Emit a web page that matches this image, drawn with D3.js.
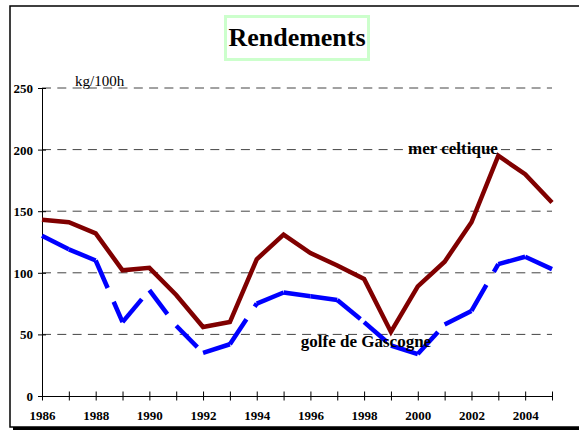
<!DOCTYPE html>
<html>
<head>
<meta charset="utf-8">
<script src="https://cdn.jsdelivr.net/npm/d3@7"></script>
<style>
  body { margin: 0; background: #fff; }
  svg { display: block; font-family: "Liberation Serif", "Times New Roman", serif; }
</style>
</head>
<body>
<div class="chart"></div>
<script>
// data (kg/100h)
const years = d3.range(1986, 2006);
const merCeltique = [143, 141, 132, 102, 104, 82, 56, 60, 111, 131, 116, 106, 95, 52, 89, 109, 141, 195, 180, 157];
const golfeGascogne = [130, 119, 110, 60, 86, 57, 35, 42, 75, 84, 81, 78, 60, 41, 34, 58, 69, 107, 113, 103];
const yTicks = [0, 50, 100, 150, 200, 250];
const gridTicks = [50, 100, 150, 200, 250];
const labelYears = d3.range(1986, 2005, 2);

const W = 579, H = 430;

const svg = d3.select(".chart")
  .append("svg")
  .attr("width", W)
  .attr("height", H);

// frame with shadow
svg.append("rect")
  .attr("x", 13).attr("y", 9)
  .attr("width", 620).attr("height", 421)
  .attr("fill", "#000");
svg.append("rect")
  .attr("x", 10).attr("y", 6)
  .attr("width", 620).attr("height", 421)
  .attr("fill", "#fff")
  .attr("stroke", "#000")
  .attr("stroke-width", 1.5);

const x = d3.scaleLinear().domain([1986, 2005]).range([42, 552]);
const y = d3.scaleLinear().domain([0, 250]).range([396, 88]);

// title
svg.append("rect")
  .attr("x", 225.5).attr("y", 16.5)
  .attr("width", 143).attr("height", 43)
  .attr("fill", "#fff")
  .attr("stroke", "#ccffcc")
  .attr("stroke-width", 3);
svg.append("text")
  .attr("x", 297).attr("y", 46)
  .attr("text-anchor", "middle")
  .style("font-size", "26px")
  .style("font-weight", "bold")
  .text("Rendements");

// gridlines
svg.append("g")
  .selectAll("line")
  .data(gridTicks)
  .enter()
  .append("line")
  .attr("x1", x(1986)).attr("x2", x(2005))
  .attr("y1", d => y(d)).attr("y2", d => y(d))
  .attr("stroke", "#444")
  .attr("stroke-width", 1)
  .attr("stroke-dasharray", "9,6.3");

// axes
const yAxis = svg.append("g")
  .attr("transform", `translate(${x(1986)},0)`)
  .call(d3.axisLeft(y).tickValues(yTicks).tickSize(0).tickFormat(""));
yAxis.select(".domain").attr("stroke", "#000");
yAxis.selectAll(".tick").append("line")
  .attr("x1", -4).attr("x2", 4).attr("stroke", "#000");
yAxis.selectAll(".tick").append("text")
  .attr("x", -9).attr("dy", "0.35em")
  .attr("text-anchor", "end")
  .attr("fill", "#000")
  .style("font-size", "13px")
  .style("font-weight", "bold")
  .style("font-family", "'Liberation Serif', serif")
  .text(d => d);

const xAxis = svg.append("g")
  .attr("transform", `translate(0,${y(0)})`)
  .call(d3.axisBottom(x).tickValues(years).tickSize(0).tickFormat(""));
xAxis.select(".domain").attr("stroke", "#000");
xAxis.selectAll(".tick").append("line")
  .attr("y1", -4.5).attr("y2", 4.5).attr("stroke", "#000");
xAxis.selectAll(".tick")
  .filter(d => labelYears.includes(d))
  .append("text")
  .attr("y", 23.5)
  .attr("text-anchor", "middle")
  .attr("fill", "#000")
  .style("font-size", "13px")
  .style("font-weight", "bold")
  .style("font-family", "'Liberation Serif', serif")
  .text(d => d);

// unit label
svg.append("text")
  .attr("x", 75).attr("y", 85.5)
  .style("font-size", "15px")
  .text("kg/100h");

// golfe de Gascogne: dashes restart on each segment
const blue = years.map((yr, i) => ({ yr, v: golfeGascogne[i] }));
svg.append("g")
  .selectAll("line")
  .data(d3.pairs(blue))
  .enter()
  .append("line")
  .attr("x1", d => x(d[0].yr)).attr("y1", d => y(d[0].v))
  .attr("x2", d => x(d[1].yr)).attr("y2", d => y(d[1].v))
  .attr("stroke", "#0000ff")
  .attr("stroke-width", 4.5)
  .attr("stroke-dasharray", "30,15");

// mer celtique
svg.append("path")
  .datum(years.map((yr, i) => ({ yr, v: merCeltique[i] })))
  .attr("d", d3.line().x(d => x(d.yr)).y(d => y(d.v)))
  .attr("fill", "none")
  .attr("stroke", "#800000")
  .attr("stroke-width", 4.5)
  .attr("stroke-linejoin", "miter");

// series labels
svg.append("text")
  .attr("x", 453).attr("y", 153.5)
  .attr("text-anchor", "middle")
  .style("font-size", "17px")
  .style("font-weight", "bold")
  .text("mer celtique");
svg.append("text")
  .attr("x", 366).attr("y", 347)
  .attr("text-anchor", "middle")
  .style("font-size", "17px")
  .style("font-weight", "bold")
  .text("golfe de Gascogne");
</script>
</body>
</html>
